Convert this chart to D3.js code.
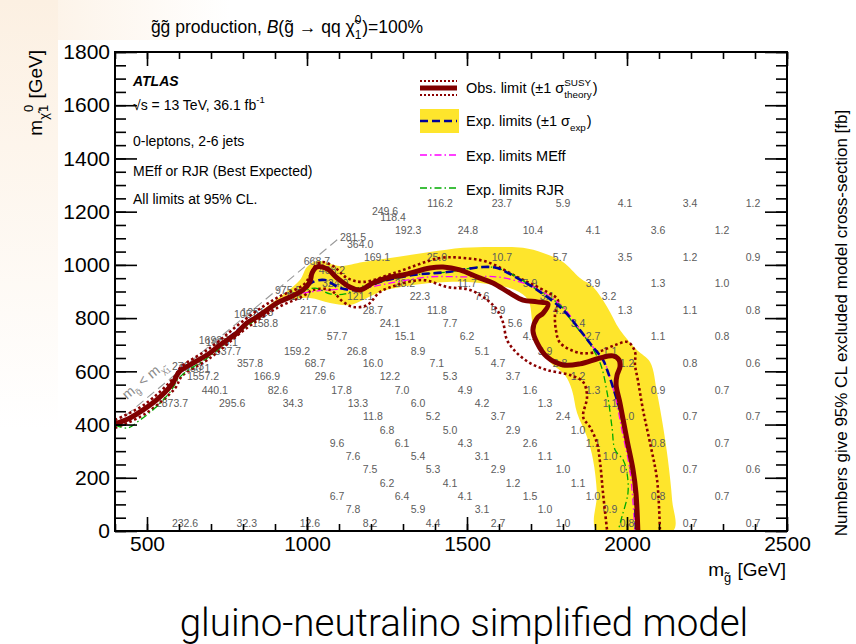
<!DOCTYPE html>
<html>
<head>
<meta charset="utf-8">
<script src="https://cdn.jsdelivr.net/npm/d3@7"></script>
<style>
  body { margin: 0; background: #fff; }
  svg { font-family: "Liberation Sans", Arial, Helvetica, sans-serif; white-space: pre; }
</style>
</head>
<body>
<svg id="chart" width="856" height="644"></svg>
<script>
// ---- data (m_gluino, m_neutralino) in GeV ----
const xTicks = [500, 1000, 1500, 2000, 2500];
const yTicks = [0, 200, 400, 600, 800, 1000, 1200, 1400, 1600, 1800];

const obsLimit = [[400,402],[447,425],[488,455],[541,504],[581,556],[594,586],[603,601],[656,639],[697,669],
  [728,699],[781,744],[812,782],[844,804],[875,830],[906,857],[947,879],[988,906],[1009,936],[1016,970],
  [1031,992],[1063,985],[1094,951],[1134,917],[1166,906],[1206,932],[1250,951],[1300,962],[1384,988],
  [1425,992],[1478,981],[1531,955],[1581,932],[1634,894],[1675,868],[1719,861],[1753,853],[1738,819],
  [1719,800],[1706,755],[1719,707],[1750,654],[1800,624],[1853,628],[1916,650],[1956,658],[1975,643],
  [1978,616],[1969,586],[1966,549],[1978,481],[2000,342],[2019,229],[2028,143],[2034,0]];

const obsUp = [[400,417],[494,477],[588,582],[603,613],[697,688],[812,800],[906,876],[988,924],[1009,958],
  [1025,996],[1047,1011],[1081,996],[1125,951],[1175,936],[1281,973],[1416,1026],[1488,1026],[1563,1011],
  [1656,955],[1750,898],[1784,868],[1775,812],[1778,755],[1791,707],[1853,669],[1916,676],[1963,699],
  [2003,710],[2025,673],[2025,624],[2034,567],[2050,455],[2072,331],[2094,192],[2103,0]];

const obsDown = [[400,387],[494,440],[588,537],[609,582],[697,650],[812,763],[906,838],[988,883],[1019,906],
  [1072,906],[1113,861],[1144,842],[1188,849],[1228,898],[1281,924],[1363,943],[1438,917],[1509,906],
  [1563,868],[1594,831],[1613,782],[1625,718],[1656,669],[1697,631],[1750,605],[1822,586],[1863,560],
  [1875,504],[1863,428],[1884,391],[1906,331],[1916,256],[1925,143],[1938,0]];

const expLimit = [[400,402],[488,455],[581,556],[603,601],[697,669],[812,782],[906,857],[988,906],[1019,936],
  [1056,943],[1103,913],[1166,906],[1228,936],[1331,962],[1438,973],[1550,992],[1594,988],[1656,951],
  [1719,906],[1800,831],[1853,755],[1894,691],[1925,643],[1938,605],[1956,541],[1978,455],[2000,342],
  [2019,229],[2028,0]];

const expBandUpper = [[784,763],[853,823],[931,894],[978,943],[1000,992],[1031,1015],[1103,996],[1175,1011],
  [1281,1030],[1384,1048],[1488,1064],[1594,1067],[1675,1064],[1738,1045],[1800,1011],[1853,951],[1894,917],
  [1938,842],[1978,755],[2031,680],[2072,635],[2094,519],[2113,391],[2128,267],[2141,116],[2144,0]];

const expBandLower = [[784,763],[831,804],[894,849],[947,868],[1009,876],[1072,857],[1134,849],[1175,868],
  [1228,898],[1331,924],[1438,936],[1541,932],[1650,906],[1691,868],[1706,774],[1728,699],[1759,635],
  [1806,586],[1828,530],[1844,443],[1875,353],[1894,267],[1906,143],[1906,0]];

const meffLimit = [[400,402],[488,455],[581,556],[603,601],[697,669],[812,782],[875,830],[925,876],[1009,898],
  [1072,906],[1175,913],[1281,936],[1384,955],[1488,955],[1594,955],[1675,932],[1738,898],[1800,842],
  [1853,755],[1894,691],[1931,631],[1947,575],[1966,492],[1984,380],[2009,229],[2025,0]];

const rjrLimit = [[400,398],[438,387],[478,417],[525,462],[572,522],[603,579],[697,658],[812,770],[906,849],
  [978,894],[1025,913],[1072,891],[1119,891],[1166,917],[1228,936],[1331,962],[1438,973],[1541,992],
  [1594,988],[1656,955],[1719,906],[1791,849],[1831,782],[1875,718],[1916,631],[1938,519],[1953,391],
  [1963,304],[1988,267],[2000,218],[2003,143],[1984,53],[1972,0]];

const diagonal = [[400,400],[1100,1100]];

// excluded cross-section numbers, one row per m_neutralino
const xsecRows = [
  [30,   [[619,'232.6'],[812,'32.3'],[1009,'12.6'],[1197,'8.2'],[1394,'4.4'],[1597,'2.7'],[1800,'1.0'],[2000,'0.8'],[2197,'0.7'],[2394,'0.7']]],
  [80,   [[1144,'7.8'],[1347,'5.9'],[1547,'3.1'],[1744,'1.0'],[1947,'0.9']]],
  [130,  [[1094,'6.7'],[1297,'6.4'],[1494,'4.1'],[1697,'1.5'],[1894,'1.0'],[2097,'0.8'],[2297,'0.7']]],
  [180,  [[1250,'6.2'],[1447,'4.1'],[1644,'1.2'],[1847,'1.1']]],
  [230,  [[1197,'7.5'],[1394,'5.3'],[1597,'2.9'],[1800,'1.0'],[2000,'0.9'],[2197,'0.7'],[2394,'0.6']]],
  [280,  [[1144,'7.6'],[1347,'5.4'],[1547,'3.1'],[1744,'1.1'],[1947,'1.0']]],
  [330,  [[1094,'9.6'],[1297,'6.1'],[1494,'4.3'],[1697,'2.6'],[1894,'1.1'],[2097,'0.8'],[2297,'0.7']]],
  [380,  [[1250,'6.8'],[1447,'5.0'],[1644,'2.9'],[1847,'1.0']]],
  [430,  [[1206,'11.8'],[1394,'5.2'],[1597,'3.7'],[1800,'2.4'],[2000,'1.0'],[2197,'0.7'],[2394,'0.7']]],
  [480,  [[578,'2873.7'],[766,'295.6'],[956,'34.3'],[1159,'13.3'],[1347,'6.0'],[1547,'4.2'],[1744,'1.3'],[1947,'1.1']]],
  [530,  [[712,'440.1'],[909,'82.6'],[1108,'17.8'],[1297,'7.0'],[1494,'4.9'],[1697,'1.6'],[1894,'1.3'],[2097,'0.9'],[2297,'0.7']]],
  [580,  [[675,'1557.2'],[875,'166.9'],[1056,'29.6'],[1259,'12.2'],[1447,'5.3'],[1644,'3.7'],[1847,'1.2']]],
  [630,  [[822,'357.8'],[1025,'68.7'],[1206,'16.0'],[1406,'7.1'],[1597,'4.7'],[1791,'2.8'],[2000,'1.2'],[2197,'0.8'],[2394,'0.6']]],
  [675,  [[753,'837.7'],[969,'159.2'],[1156,'26.8'],[1347,'8.9'],[1547,'5.1'],[1744,'3.9'],[1947,'1.1']]],
  [730,  [[1094,'57.7'],[1306,'15.1'],[1500,'6.2'],[1697,'4.1'],[1894,'2.7'],[2097,'1.1'],[2297,'0.8']]],
  [780,  [[869,'158.8'],[1259,'24.1'],[1447,'7.7'],[1650,'5.6'],[1847,'3.4']]],
  [830,  [[1019,'217.6'],[1206,'28.7'],[1406,'11.8'],[1597,'5.9'],[1791,'4.2'],[1994,'1.3'],[2197,'1.1'],[2394,'0.8']]],
  [880,  [[972,'118.7'],[1166,'121.1'],[1353,'22.3'],[1547,'7.6'],[1750,'3.1'],[1944,'3.2']]],
  [930,  [[1088,'324.9'],[1306,'28.2'],[1500,'11.7'],[1697,'5.9'],[1894,'3.9'],[2097,'1.3'],[2297,'1.0']]],
  [1030, [[1219,'169.1'],[1406,'25.0'],[1609,'10.7'],[1791,'5.7'],[1994,'3.5'],[2197,'1.2'],[2394,'0.9']]],
  [1130, [[1316,'192.3'],[1503,'24.8'],[1706,'10.4'],[1894,'4.1'],[2097,'3.6'],[2297,'1.2']]],
  [1230, [[1416,'116.2'],[1609,'23.7'],[1800,'5.9'],[1994,'4.1'],[2197,'3.4'],[2394,'1.2']]]
];
// crowded points near the diagonal
const xsecDiag = [[1244,1203,'249.6'],[1269,1180,'118.4'],[1144,1105,'281.5'],[1166,1079,'364.0'],
  [1031,1015,'668.7'],[1078,981,'408.2'],[941,906,'975.5'],[822,815,'1057.8'],[845,820,'1251.3'],
  [734,710,'1625.1'],[712,716,'1692.7'],[628,620,'2761.3'],[648,610,'1950.1']];

const infoLines = ['0-leptons, 2-6 jets', 'MEff or RJR (Best Expected)', 'All limits at 95% CL.'];

// ---- scales ----
const x = d3.scaleLinear().domain([400, 2500]).range([115, 787]);
const y = d3.scaleLinear().domain([0, 1800]).range([531, 52]);

const svg = d3.select('#chart');
const defs = svg.append('defs');

// faint watermark tint at the top left
const gv = defs.append('linearGradient').attr('id', 'tintv').attr('x1', 0).attr('x2', 0).attr('y1', 0).attr('y2', 1);
gv.append('stop').attr('offset', 0).attr('stop-color', '#fcf0e2');
gv.append('stop').attr('offset', 1).attr('stop-color', '#ffffff');
const gh = defs.append('linearGradient').attr('id', 'tinth');
gh.append('stop').attr('offset', 0).attr('stop-color', '#fcf0e2');
gh.append('stop').attr('offset', 1).attr('stop-color', '#ffffff');
svg.append('rect').attr('x', 0).attr('y', 0).attr('width', 230).attr('height', 40).attr('fill', 'url(#tinth)');
svg.append('rect').attr('x', 0).attr('y', 0).attr('width', 58).attr('height', 430).attr('fill', 'url(#tintv)');

defs.append('clipPath').attr('id', 'plotclip')
  .append('rect').attr('x', x(400)).attr('y', y(1800))
  .attr('width', x(2500) - x(400)).attr('height', y(0) - y(1800));

svg.append('rect').attr('x', x(400)).attr('y', y(1800))
  .attr('width', x(2500) - x(400)).attr('height', y(0) - y(1800)).attr('fill', '#fff');

const plot = svg.append('g').attr('clip-path', 'url(#plotclip)');

const line = d3.line().x(d => x(d[0])).y(d => y(d[1])).curve(d3.curveCatmullRom.alpha(0.5));

// yellow +-1 sigma band
const band = expBandUpper.concat(expBandLower.slice().reverse());
plot.append('path').attr('d', line(band) + 'Z').attr('fill', '#fee52c').attr('stroke', 'none');

// numbers
const labels = plot.append('g').attr('font-size', 10.5).attr('fill', '#5c5c5c').attr('text-anchor', 'middle');
xsecRows.forEach(([m, pts]) => {
  pts.forEach(([mg, t]) => {
    labels.append('text').attr('x', x(mg)).attr('y', y(m)).attr('dy', '0.35em').text(t);
  });
});
xsecDiag.forEach(([mg, m, t]) => {
  labels.append('text').attr('x', x(mg)).attr('y', y(m)).attr('dy', '0.35em').text(t);
});

// kinematic boundary
plot.append('path').attr('d', d3.line().x(d => x(d[0])).y(d => y(d[1]))(diagonal))
  .attr('fill', 'none').attr('stroke', '#9a9a9a').attr('stroke-width', 1.1).attr('stroke-dasharray', '9,5');
const ang = Math.atan2(y(1000) - y(400), x(1000) - x(400)) * 180 / Math.PI;
const kin = svg.append('text').attr('fill', '#8a8a8a').attr('font-size', 14)
  .attr('transform', `translate(127,400) rotate(${ang})`);
kin.append('tspan').text('m');
kin.append('tspan').attr('font-size', 9).attr('dy', 4).text('g\u0303');
kin.append('tspan').attr('dy', -4).text('\u00a0<\u00a0m');
kin.append('tspan').attr('font-size', 9).attr('dy', 4).text('\u03c7\u0303');
kin.append('tspan').attr('font-size', 7).attr('dy', 2).text('1');

// contour lines
const dotted = {stroke: '#8b0000', 'stroke-width': 2.6, 'stroke-dasharray': '2.6,2.6', fill: 'none'};
[obsUp, obsDown].forEach(arr => {
  const p = plot.append('path').attr('d', line(arr));
  Object.entries(dotted).forEach(([k, v]) => p.attr(k, v));
});
plot.append('path').attr('d', line(meffLimit)).attr('fill', 'none')
  .attr('stroke', '#ff00ff').attr('stroke-width', 1.3).attr('stroke-dasharray', '7,3,1.5,3');
plot.append('path').attr('d', line(rjrLimit)).attr('fill', 'none')
  .attr('stroke', '#00aa00').attr('stroke-width', 1.3).attr('stroke-dasharray', '7,3,1.5,3');
plot.append('path').attr('d', line(expLimit)).attr('fill', 'none')
  .attr('stroke', '#000099').attr('stroke-width', 2.6).attr('stroke-dasharray', '8,4');
plot.append('path').attr('d', line(obsLimit)).attr('fill', 'none')
  .attr('stroke', '#800000').attr('stroke-width', 5).attr('stroke-linejoin', 'round');

// ---- axes (ROOT style, ticks inside) ----
const majX = d3.range(500, 2501, 500), minX = d3.range(400, 2501, 100);
const majY = yTicks, minY = d3.range(0, 1801, 50);
function axisG(ax, tr) {
  const g = svg.append('g').attr('transform', tr).call(ax);
  g.select('.domain').remove();
  g.selectAll('line').attr('stroke', '#000').attr('stroke-width', 1.6);
  return g;
}
axisG(d3.axisBottom(x).tickValues(minX).tickSize(-7).tickFormat(''), `translate(0,${y(0)})`);
axisG(d3.axisTop(x).tickValues(minX).tickSize(-7).tickFormat(''), `translate(0,${y(1800)})`);
axisG(d3.axisTop(x).tickValues(majX).tickSize(-14).tickFormat(''), `translate(0,${y(1800)})`);
const xa = axisG(d3.axisBottom(x).tickValues(xTicks).tickSize(-14).tickPadding(5).tickFormat(d3.format('d')), `translate(0,${y(0)})`);
xa.selectAll('text').attr('font-size', 21).attr('fill', '#000').attr('font-family', '"Liberation Sans", Arial, sans-serif');
axisG(d3.axisLeft(y).tickValues(minY).tickSize(-11).tickFormat(''), `translate(${x(400)},0)`);
axisG(d3.axisRight(y).tickValues(minY).tickSize(-11).tickFormat(''), `translate(${x(2500)},0)`);
axisG(d3.axisRight(y).tickValues(majY).tickSize(-22).tickFormat(''), `translate(${x(2500)},0)`);
const ya = axisG(d3.axisLeft(y).tickValues(majY).tickSize(-22).tickPadding(5).tickFormat(d3.format('d')), `translate(${x(400)},0)`);
ya.selectAll('text').attr('font-size', 21).attr('fill', '#000').attr('font-family', '"Liberation Sans", Arial, sans-serif');

svg.append('rect').attr('x', x(400)).attr('y', y(1800))
  .attr('width', x(2500) - x(400)).attr('height', y(0) - y(1800))
  .attr('fill', 'none').attr('stroke', '#000').attr('stroke-width', 2);

// ---- rich text helper (sub/superscripts) ----
// edge spaces become no-break spaces so that the measured width keeps them
const keep = s => s.replace(/^ +| +$/g, m => '\u00a0'.repeat(m.length));
function rich(g, x0, y0, parts, size) {
  let cx = x0;
  parts.forEach(p => {
    if (p.t != null) {
      const t = g.append('text').attr('x', cx).attr('y', y0).attr('font-size', size).text(keep(p.t));
      if (p.italic) t.attr('font-style', 'italic');
      cx += t.node().getComputedTextLength();
    } else {
      let w = 0;
      if (p.sup != null) {
        const t = g.append('text').attr('x', cx).attr('y', y0 - size * 0.5).attr('font-size', size * 0.68).text(p.sup);
        w = Math.max(w, t.node().getComputedTextLength());
      }
      if (p.sub != null) {
        const t = g.append('text').attr('x', cx).attr('y', y0 + size * 0.32).attr('font-size', size * 0.68).text(p.sub);
        w = Math.max(w, t.node().getComputedTextLength());
      }
      cx += w + 1;
    }
  });
  return cx - x0;
}

// title
const tg = svg.append('g');
const tw = rich(tg, 0, 33, [{t: 'g\u0303g\u0303 production, '}, {t: 'B', italic: true},
  {t: '(g\u0303 \u2192 qq \u03c7\u0303'}, {sup: '0', sub: '1'}, {t: ')=100%'}], 17.5);
tg.attr('transform', `translate(${287 - tw / 2},0)`);

// ATLAS block
svg.append('text').attr('x', 133).attr('y', 86).attr('font-size', 14).attr('font-weight', 'bold')
  .attr('font-style', 'italic').text('ATLAS');
const sg = svg.append('g');
rich(sg, 133, 110, [{t: '\u221as = 13 TeV, 36.1 fb'}, {sup: '-1'}], 14);
infoLines.forEach((s, i) => {
  svg.append('text').attr('x', 133).attr('y', [146, 176, 204][i]).attr('font-size', 14).text(s);
});

// legend
const lg = svg.append('g');
lg.append('line').attr('x1', 420).attr('x2', 457).attr('y1', 88).attr('y2', 88)
  .attr('stroke', '#800000').attr('stroke-width', 5);
[81, 95].forEach(v => lg.append('line').attr('x1', 420).attr('x2', 457).attr('y1', v).attr('y2', v)
  .attr('stroke', '#8b0000').attr('stroke-width', 2).attr('stroke-dasharray', '2,2'));
lg.append('rect').attr('x', 420).attr('y', 109).attr('width', 39).attr('height', 24).attr('fill', '#fee52c');
lg.append('line').attr('x1', 420).attr('x2', 457).attr('y1', 121).attr('y2', 121)
  .attr('stroke', '#000099').attr('stroke-width', 2.6).attr('stroke-dasharray', '8,4');
lg.append('line').attr('x1', 420).attr('x2', 457).attr('y1', 155).attr('y2', 155)
  .attr('stroke', '#ff00ff').attr('stroke-width', 1.3).attr('stroke-dasharray', '7,3,1.5,3');
lg.append('line').attr('x1', 420).attr('x2', 457).attr('y1', 188).attr('y2', 188)
  .attr('stroke', '#00aa00').attr('stroke-width', 1.3).attr('stroke-dasharray', '7,3,1.5,3');
rich(lg, 466, 93, [{t: 'Obs. limit (\u00b11 \u03c3'}, {sup: 'SUSY', sub: 'theory'}, {t: ')'}], 14.5);
rich(lg, 466, 126, [{t: 'Exp. limits (\u00b11 \u03c3'}, {sub: 'exp'}, {t: ')'}], 14.5);
lg.append('text').attr('x', 466).attr('y', 161).attr('font-size', 14.5).text('Exp. limits MEff');
lg.append('text').attr('x', 466).attr('y', 195).attr('font-size', 14.5).text('Exp. limits RJR');

// axis titles
const xt = svg.append('g');
const xw = rich(xt, 0, 576, [{t: 'm'}, {sub: 'g\u0303'}, {t: ' [GeV]'}], 19);
xt.attr('transform', `translate(${786 - xw},0)`);

const yt = svg.append('g').attr('transform', 'translate(42,50) rotate(-90)');
const yin = yt.append('g');
const yw = rich(yin, 0, 0, [{t: 'm'}, {sub: '\u03c7\u0303'}, {sup: '0', sub: '1'}, {t: ' [GeV]'}], 19);
yin.attr('transform', `translate(${-yw},0)`);

svg.append('text').attr('transform', 'translate(847,323) rotate(-90)')
  .attr('text-anchor', 'middle').attr('font-size', 17)
  .text('Numbers give 95% CL excluded model cross-section [fb]');

svg.append('text').attr('x', 464).attr('y', 636).attr('text-anchor', 'middle')
  .attr('font-size', 38.5).attr('font-family', 'Roboto, "Liberation Sans", sans-serif').attr('font-weight', 300)
  .text('gluino-neutralino simplified model');
</script>
</body>
</html>
